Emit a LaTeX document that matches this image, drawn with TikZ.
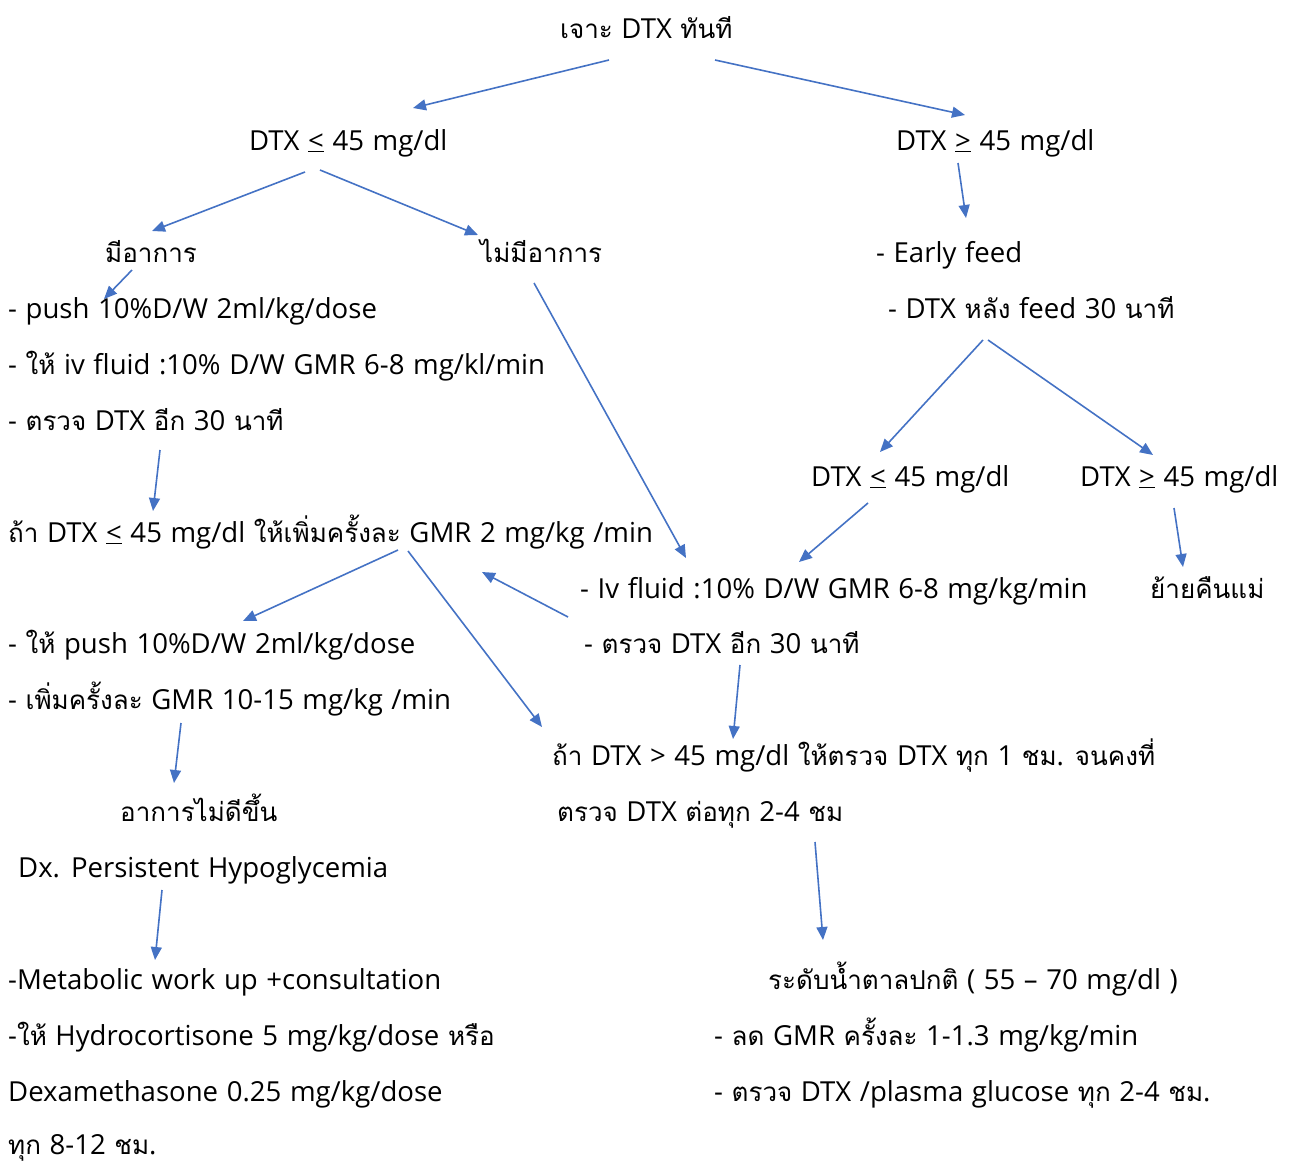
\documentclass[tikz,border=0pt]{standalone}
\usepackage{fontspec}
\setmainfont[Scale=1.06,WordSpace=1.2]{Open Sans}
\newfontfamily\thaifont[Script=Thai]{Loma}
\XeTeXinterchartokenstate=1
\newXeTeXintercharclass\thaiclass
\newcount\tmpc
\tmpc="0E00
\loop\ifnum\tmpc<"0E80 \XeTeXcharclass\tmpc=\thaiclass \advance\tmpc by 1 \repeat
\XeTeXinterchartoks 0 \thaiclass = {\thaifont}
\XeTeXinterchartoks 4095 \thaiclass = {\thaifont}
\XeTeXinterchartoks \thaiclass 0 = {\rmfamily}
\XeTeXinterchartoks \thaiclass 4095 = {\rmfamily}
\usetikzlibrary{arrows.meta}
\definecolor{arrowblue}{RGB}{68,114,196}
\newcommand{\mle}{\underline{<}}
\newcommand{\mge}{\underline{>}}
\tikzset{
  lbl/.style={anchor=base west, inner sep=0pt, font=\fontsize{26}{30}\selectfont},
  arr/.style={draw=arrowblue, line width=1.6pt, -{Triangle[length=13pt,width=11pt]}}
}
\begin{document}
\begin{tikzpicture}[x=1pt,y=-1pt]
\useasboundingbox (0,0) rectangle (1297,1164);
\node[lbl] (t0) at (560,38) {เจาะ DTX ทันที};
\node[lbl] (l1) at (249,150) {DTX \mle{} 45 mg/dl};
\node[lbl] (r1) at (896,150) {DTX \mge{} 45 mg/dl};
\node[lbl] (sym) at (105,262) {มีอาการ};
\node[lbl] (nosym) at (480,262) {ไม่มีอาการ};
\node[lbl] (early) at (876,262) {- Early feed};
\node[lbl] (afterfeed) at (888,318) {- DTX หลัง feed 30 นาที};
\node[lbl] (push1) at (8,318) {- push 10\%D/W 2ml/kg/dose};
\node[lbl] (iv1) at (8,374) {- ให้ iv fluid :10\% D/W GMR 6-8 mg/kl/min};
\node[lbl] (chk1) at (8,430) {- ตรวจ DTX อีก 30 นาที};
\node[lbl] (l2) at (811,486) {DTX \mle{} 45 mg/dl};
\node[lbl] (r2) at (1080,486) {DTX \mge{} 45 mg/dl};
\node[lbl] (inc) at (8,542) {ถ้า DTX \mle{} 45 mg/dl ให้เพิ่มครั้งละ GMR 2 mg/kg /min};
\node[lbl] (iv2) at (580,598) {- Iv fluid :10\% D/W GMR 6-8 mg/kg/min};
\node[lbl] (mom) at (1150,598) {ย้ายคืนแม่};
\node[lbl] (chk2) at (584,653) {- ตรวจ DTX อีก 30 นาที};
\node[lbl] (push2) at (8,653) {- ให้ push 10\%D/W 2ml/kg/dose};
\node[lbl] (inc2) at (8,709) {- เพิ่มครั้งละ GMR 10-15 mg/kg /min};
\node[lbl] (ok1) at (552,765) {ถ้า DTX > 45 mg/dl ให้ตรวจ DTX ทุก 1 ชม. จนคงที่};
\node[lbl] (ok2) at (557,821) {ตรวจ DTX ต่อทุก 2-4 ชม};
\node[lbl] (worse) at (120,821) {อาการไม่ดีขึ้น};
\node[lbl] (dx) at (18,877) {Dx. Persistent Hypoglycemia};
\node[lbl] (m1) at (8,989) {-Metabolic work up +consultation};
\node[lbl] (m2) at (8,1045) {-ให้ Hydrocortisone 5 mg/kg/dose หรือ};
\node[lbl] (m3) at (8,1101) {Dexamethasone 0.25 mg/kg/dose};
\node[lbl] (m4) at (8,1154) {ทุก 8-12 ชม.};
\node[lbl] (n1) at (768,989) {ระดับน้ำตาลปกติ ( 55 – 70 mg/dl )};
\node[lbl] (n2) at (714,1045) {- ลด GMR ครั้งละ 1-1.3 mg/kg/min};
\node[lbl] (n3) at (714,1101) {- ตรวจ DTX /plasma glucose ทุก 2-4 ชม.};
% arrow end points
\coordinate (a1) at (609,60);  \coordinate (a2) at (413,108);
\coordinate (b1) at (715,60);  \coordinate (b2) at (965,115);
\coordinate (c1) at (305,172); \coordinate (c2) at (152,231);
\coordinate (d1) at (320,170); \coordinate (d2) at (478,235);
\coordinate (e1) at (132,270); \coordinate (e2) at (104,299);
\coordinate (f1) at (958,163); \coordinate (f2) at (966,218);
\coordinate (g1) at (534,283); \coordinate (g2) at (686,558);
\coordinate (h1) at (983,340); \coordinate (h2) at (880,452);
\coordinate (i1) at (988,340); \coordinate (i2) at (1153,455);
\coordinate (j1) at (160,450); \coordinate (j2) at (153,511);
\coordinate (k1) at (868,503); \coordinate (k2) at (799,562);
\coordinate (m1a) at (1174,508); \coordinate (m2a) at (1183,567);
\coordinate (p1) at (398,550); \coordinate (p2) at (243,621);
\coordinate (q1) at (408,551); \coordinate (q2) at (542,727);
\coordinate (o1) at (568,617); \coordinate (o2) at (482,572);
\coordinate (s1) at (740,665); \coordinate (s2) at (733,739);
\coordinate (u1) at (181,723); \coordinate (u2) at (174,783);
\coordinate (v1) at (815,842); \coordinate (v2) at (823,940);
\coordinate (w1) at (162,890); \coordinate (w2) at (155,960);
\draw[arr] (a1) -- (a2);
\draw[arr] (b1) -- (b2);
\draw[arr] (c1) -- (c2);
\draw[arr] (d1) -- (d2);
\draw[arr] (e1) -- (e2);
\draw[arr] (f1) -- (f2);
\draw[arr] (g1) -- (g2);
\draw[arr] (h1) -- (h2);
\draw[arr] (i1) -- (i2);
\draw[arr] (j1) -- (j2);
\draw[arr] (k1) -- (k2);
\draw[arr] (m1a) -- (m2a);
\draw[arr] (p1) -- (p2);
\draw[arr] (q1) -- (q2);
\draw[arr] (o1) -- (o2);
\draw[arr] (s1) -- (s2);
\draw[arr] (u1) -- (u2);
\draw[arr] (v1) -- (v2);
\draw[arr] (w1) -- (w2);
\end{tikzpicture}
\end{document}
